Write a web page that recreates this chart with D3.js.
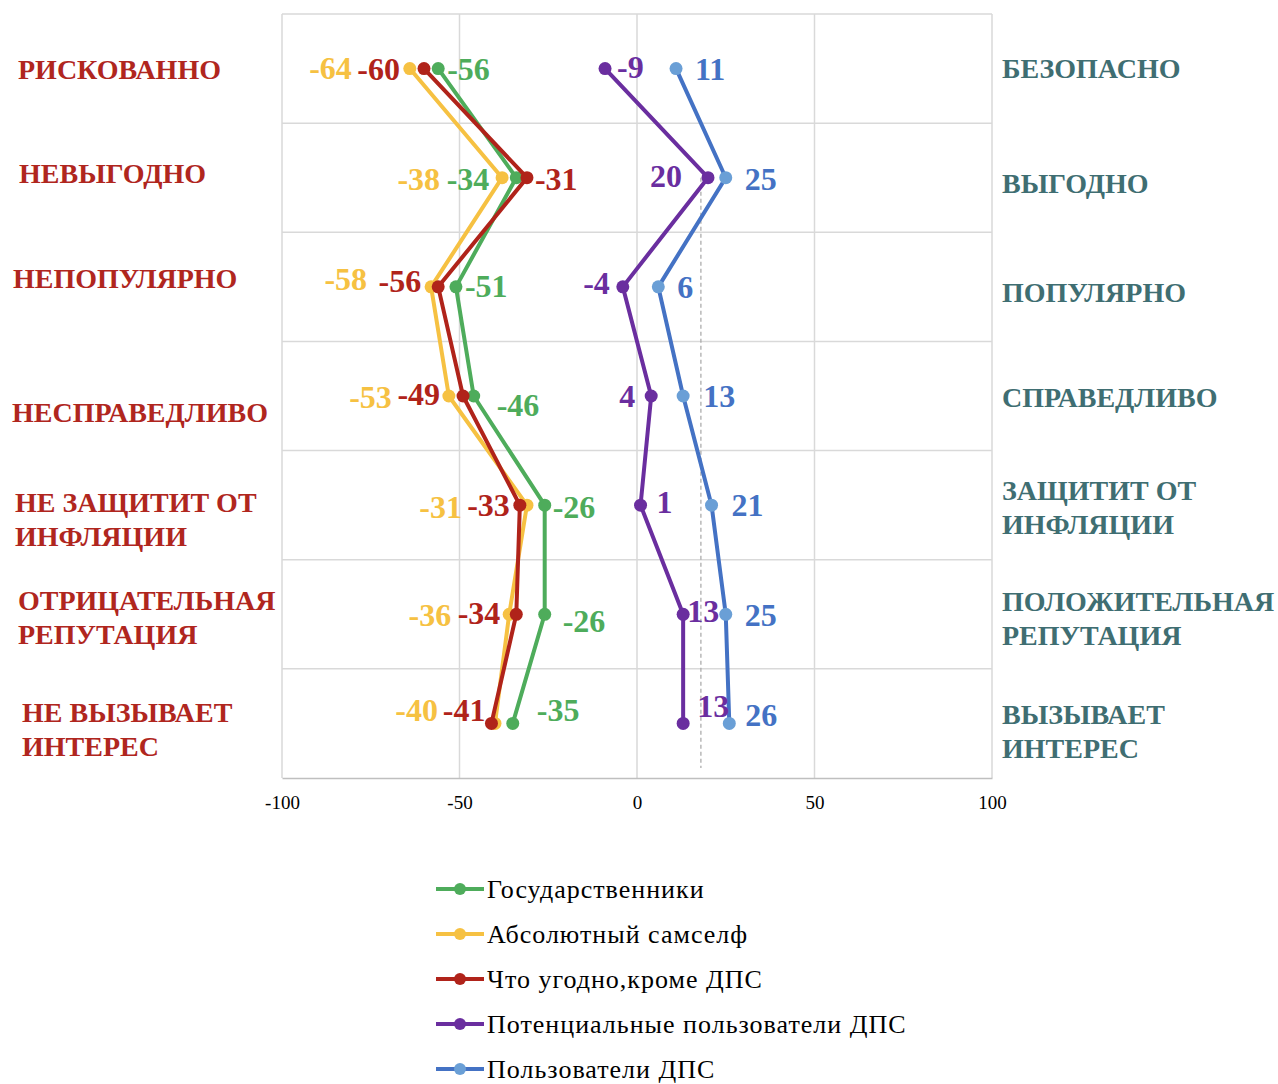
<!DOCTYPE html>
<html>
<head>
<meta charset="utf-8">
<script src="https://cdn.jsdelivr.net/npm/d3@7"></script>
<style>
  body { margin: 0; background: #fff; }
  svg { display: block; }
  text { font-family: "Liberation Serif", "Times New Roman", serif; }
</style>
</head>
<body>
<div id="chart"></div>
<script>
// --- data ---
const leftCategories = [
  ['РИСКОВАННО'],
  ['НЕВЫГОДНО'],
  ['НЕПОПУЛЯРНО'],
  ['НЕСПРАВЕДЛИВО'],
  ['НЕ ЗАЩИТИТ ОТ', 'ИНФЛЯЦИИ'],
  ['ОТРИЦАТЕЛЬНАЯ', 'РЕПУТАЦИЯ'],
  ['НЕ ВЫЗЫВАЕТ', 'ИНТЕРЕС']
];
const rightCategories = [
  ['БЕЗОПАСНО'],
  ['ВЫГОДНО'],
  ['ПОПУЛЯРНО'],
  ['СПРАВЕДЛИВО'],
  ['ЗАЩИТИТ ОТ', 'ИНФЛЯЦИИ'],
  ['ПОЛОЖИТЕЛЬНАЯ', 'РЕПУТАЦИЯ'],
  ['ВЫЗЫВАЕТ', 'ИНТЕРЕС']
];
const seriesNames = [
  'Государственники',
  'Абсолютный самселф',
  'Что угодно,кроме ДПС',
  'Потенциальные пользователи ДПС',
  'Пользователи ДПС'
];
const gosValues = [-56, -34, -51, -46, -26, -26, -35];
const samselfValues = [-64, -38, -58, -53, -31, -36, -40];
const kromeValues = [-60, -31, -56, -49, -33, -34, -41];
const potentialValues = [-9, 20, -4, 4, 1, 13, 13];
const usersValues = [11, 25, 6, 13, 21, 25, 26];
const xTicks = [-100, -50, 0, 50, 100];
const referenceValue = 18;

// --- styles / layout ---
const lineColors = ['#4eac5b', '#f6c142', '#b0231a', '#6a2e9f', '#4472c4'];
const markerColors = ['#4eac5b', '#f6c142', '#b0231a', '#6a2e9f', '#6a9fd6'];
const labelColors = ['#4eac5b', '#f6c142', '#b0231a', '#6a2e9f', '#4472c4'];
// per-label pixel offsets [dx, dy] from the marker (negative dx = label on the left)
const labelOffsets = [
  [[9, 0], [-27, 1], [9, -1], [23, 9], [8, 2], [18, 7], [24, -14]],
  [[-58, -1], [-62, 1], [-64, -8], [-57, 1], [-65, 2], [-58, 1], [-57, -14]],
  [[-24, 0], [8, 1], [-17, -6], [-23, -2], [-10, 0], [-16, -1], [-6, -14]],
  [[12, -2], [-26, -2], [-13, -4], [-16, 0], [16, -3], [4, -3], [14, -18]],
  [[19, 0], [19, 1], [19, 0], [20, 0], [20, 0], [19, 1], [16, -9]]
];
const leftLabelLayout = [[18, 10], [19, 5], [13, 1], [12, 26], [15, 7], [18, -4], [22, -1]];
const rightLabelLayout = [[0, 9], [0, 15], [0, 15], [0, 11], [0, -5], [0, -3], [0, 1]];

const config = {
  width: 1278, height: 1084,
  plotLeft: 282, plotRight: 992, plotTop: 14, plotBottom: 778,
  rightLabelX: 1002, lineHeight: 34
};

const seriesValues = [gosValues, samselfValues, kromeValues, potentialValues, usersValues];
const series = seriesNames.map((name, i) => ({
  name, index: i,
  points: seriesValues[i].map((v, r) => ({ value: v, row: r }))
}));

const svg = d3.select('#chart').append('svg')
  .attr('width', config.width)
  .attr('height', config.height);

const x = d3.scaleLinear()
  .domain([-100, 100])
  .range([config.plotLeft, config.plotRight]);

const rowBand = d3.scaleBand()
  .domain(d3.range(leftCategories.length))
  .range([config.plotTop, config.plotBottom])
  .padding(0);
const rowY = r => rowBand(r) + rowBand.bandwidth() / 2;

// gridlines
const grid = svg.append('g').attr('class', 'grid');
grid.selectAll('.hgrid')
  .data(d3.range(leftCategories.length))
  .join('line')
  .attr('x1', config.plotLeft).attr('x2', config.plotRight)
  .attr('y1', d => rowBand(d)).attr('y2', d => rowBand(d))
  .attr('stroke', '#d9d9d9').attr('stroke-width', 1.5);
grid.selectAll('.vgrid')
  .data(xTicks)
  .join('line')
  .attr('x1', d => x(d)).attr('x2', d => x(d))
  .attr('y1', config.plotTop).attr('y2', config.plotBottom)
  .attr('stroke', '#d9d9d9').attr('stroke-width', 1.5);

// x axis (plain hyphen for negatives, like the original)
const xAxis = d3.axisBottom(x).tickValues(xTicks).tickSize(0).tickPadding(18)
  .tickFormat(d => String(d));
const axisG = svg.append('g')
  .attr('transform', `translate(0,${config.plotBottom})`)
  .call(xAxis);
axisG.select('.domain').attr('stroke', '#bfbfbf').attr('stroke-width', 1.5);
axisG.selectAll('.tick text')
  .attr('font-family', '"Liberation Serif", serif')
  .attr('font-size', 19)
  .attr('fill', '#000');

// dashed reference line
svg.append('line')
  .attr('x1', x(referenceValue)).attr('x2', x(referenceValue))
  .attr('y1', rowY(1)).attr('y2', config.plotBottom - 10)
  .attr('stroke', '#a6a6a6').attr('stroke-width', 1.2)
  .attr('stroke-dasharray', '4,3');

// lines and markers
const line = d3.line().x(d => x(d.value)).y(d => rowY(d.row));
const seriesG = svg.selectAll('.series')
  .data(series)
  .join('g')
  .attr('class', 'series');

seriesG.append('path')
  .attr('d', d => line(d.points))
  .attr('fill', 'none')
  .attr('stroke', d => lineColors[d.index])
  .attr('stroke-width', 4)
  .attr('stroke-linejoin', 'round');

seriesG.selectAll('circle')
  .data(d => d.points.map(p => ({ ...p, s: d.index })))
  .join('circle')
  .attr('cx', d => x(d.value))
  .attr('cy', d => rowY(d.row))
  .attr('r', 6.5)
  .attr('fill', d => markerColors[d.s]);

// data labels
svg.append('g').selectAll('g')
  .data(series)
  .join('g')
  .selectAll('text')
  .data(d => d.points.map(p => ({ ...p, s: d.index })))
  .join('text')
  .attr('x', d => x(d.value) + labelOffsets[d.s][d.row][0])
  .attr('y', d => rowY(d.row) + labelOffsets[d.s][d.row][1])
  .attr('dy', '0.35em')
  .attr('text-anchor', d => labelOffsets[d.s][d.row][0] < 0 ? 'end' : 'start')
  .attr('font-size', 32)
  .attr('font-weight', 'bold')
  .attr('fill', d => labelColors[d.s])
  .text(d => d.value);

// category labels
function drawCategoryLabels(cats, layout, baseX, color) {
  const g = svg.append('g');
  const t = g.selectAll('text')
    .data(cats)
    .join('text')
    .attr('x', (d, i) => baseX + layout[i][0])
    .attr('y', (d, i) => rowY(i) + layout[i][1])
    .attr('font-size', 28)
    .attr('font-weight', 'bold')
    .attr('fill', color);
  t.selectAll('tspan')
    .data(d => d)
    .join('tspan')
    .attr('x', function() { return d3.select(this.parentNode).attr('x'); })
    .attr('dy', (d, j) => j === 0 ? 0 : config.lineHeight)
    .text(d => d);
}
drawCategoryLabels(leftCategories, leftLabelLayout, 0, '#b0261e');
drawCategoryLabels(rightCategories, rightLabelLayout, config.rightLabelX, '#3f6e72');

// legend
const legend = svg.append('g').attr('transform', 'translate(436,889)');
const legendItem = legend.selectAll('g')
  .data(series)
  .join('g')
  .attr('transform', (d, i) => `translate(0,${i * 45})`);
legendItem.append('line')
  .attr('x1', 0).attr('x2', 48)
  .attr('stroke', d => lineColors[d.index])
  .attr('stroke-width', 4);
legendItem.append('circle')
  .attr('cx', 24).attr('r', 6)
  .attr('fill', d => markerColors[d.index]);
legendItem.append('text')
  .attr('x', 51)
  .attr('dy', '0.35em')
  .attr('font-size', 26)
  .attr('letter-spacing', 1)
  .attr('fill', '#000')
  .text(d => d.name);
</script>
</body>
</html>
